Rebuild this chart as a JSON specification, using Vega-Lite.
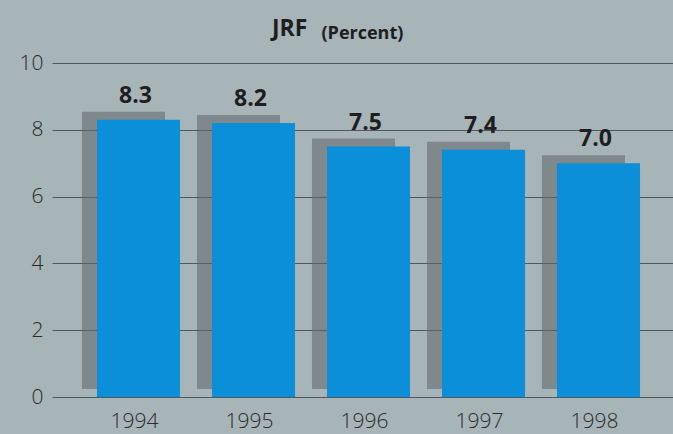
{
  "$schema": "https://vega.github.io/schema/vega-lite/v6.json",
  "width": 621,
  "height": 334,
  "autosize": {"type": "none"},
  "padding": {"left": 52, "top": 63, "right": 0, "bottom": 37},
  "background": "#a7b4b8",
  "config": {"view": {"stroke": null}, "font": "Open Sans"},
  "title": {
    "text": "JRF",
    "anchor": "start",
    "frame": "group",
    "dx": 220,
    "dy": 60,
    "offset": 25,
    "baseline": "alphabetic",
    "font": "Open Sans",
    "fontSize": 23,
    "fontWeight": "bold",
    "color": "#1e1e1e"
  },
  "data": {
    "values": [
      {"year": "1994", "pct": 8.3},
      {"year": "1995", "pct": 8.2},
      {"year": "1996", "pct": 7.5},
      {"year": "1997", "pct": 7.4},
      {"year": "1998", "pct": 7.0}
    ]
  },
  "encoding": {
    "x": {
      "field": "year",
      "type": "nominal",
      "scale": {"paddingInner": 0.278, "paddingOuter": 0.339, "align": 0.577},
      "axis": {
        "title": null,
        "ticks": false,
        "domain": false,
        "labelAngle": 0,
        "labelFont": "Open Sans",
        "labelFontSize": 21,
        "labelFontWeight": 300,
        "labelColor": "#2a2a2a",
        "labelPadding": 13,
        "labelOffset": -4
      }
    },
    "y": {
      "field": "pct",
      "type": "quantitative",
      "scale": {"domain": [0, 10]},
      "axis": {
        "values": [0, 2, 4, 6, 8, 10],
        "ticks": false,
        "domain": false,
        "grid": true,
        "gridColor": "#4f5a5e",
        "gridWidth": 1.2,
        "labelFont": "Open Sans",
        "labelFontSize": 21,
        "labelFontWeight": 300,
        "labelColor": "#2a2a2a",
        "labelPadding": 9,
        "title": "(Percent)",
        "titleAngle": 0,
        "titleX": 269,
        "titleY": -25,
        "titleAlign": "left",
        "titleBaseline": "alphabetic",
        "titleFont": "Open Sans",
        "titleFontSize": 18,
        "titleFontWeight": "bold",
        "titleColor": "#1e1e1e"
      }
    }
  },
  "layer": [
    {"mark": {"type": "bar", "color": "#5f6667", "opacity": 0.55, "xOffset": -15, "yOffset": -8}},
    {"mark": {"type": "bar", "color": "#0b8fd9"}},
    {
      "mark": {
        "type": "text",
        "baseline": "alphabetic",
        "dy": -17,
        "dx": -3,
        "font": "Open Sans",
        "fontSize": 23,
        "fontWeight": "bold",
        "color": "#1e1e1e"
      },
      "encoding": {"text": {"field": "pct", "type": "quantitative", "format": ".1f"}}
    }
  ]
}
